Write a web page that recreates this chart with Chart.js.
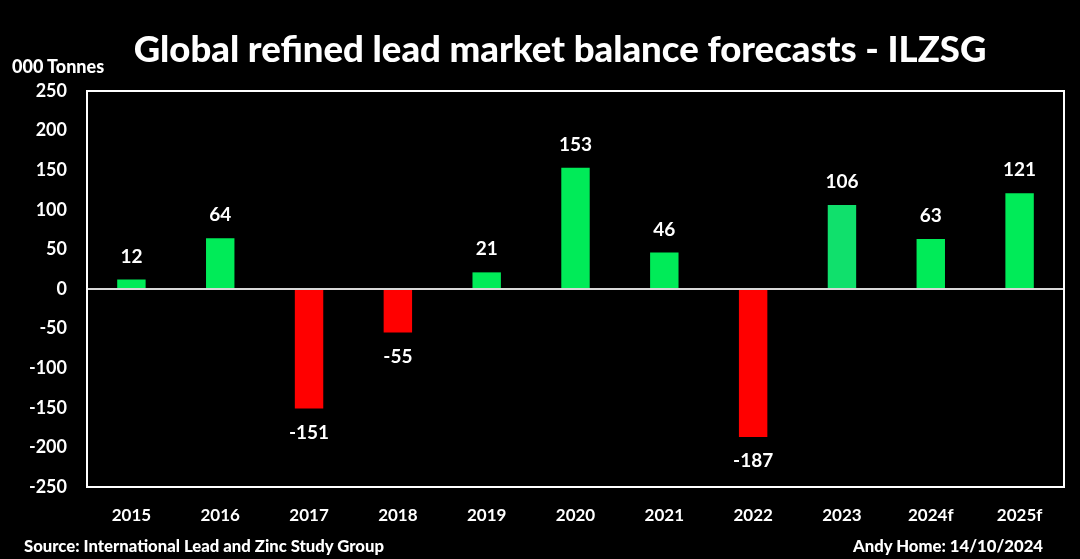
<!DOCTYPE html>
<html>
<head>
<meta charset="utf-8">
<script src="https://cdn.jsdelivr.net/npm/chart.js@4.4.0/dist/chart.umd.min.js"></script>
<style>
  html, body { margin: 0; padding: 0; background: #000; }
  #wrap { position: relative; width: 1080px; height: 559px; background: #000; font-family: Lato, "Open Sans", sans-serif; color: #fff; font-weight: 900; }
  #wrap canvas { position: absolute; left: 0; top: 0; }
  .txt { position: absolute; white-space: nowrap; }
  #title { left: 0; width: 1120px; top: 26px; text-align: center; font-size: 36.5px; }
  #unit { left: 12px; top: 55px; font-size: 18px; }
  #source { left: 24px; top: 536px; font-size: 16.7px; }
  #author { right: 37px; top: 536px; font-size: 16.7px; }
</style>
</head>
<body>
<div id="wrap">
  <canvas id="balanceChart" width="1080" height="559"></canvas>
  <div class="txt" id="title">Global refined lead market balance forecasts - ILZSG</div>
  <div class="txt" id="unit">000 Tonnes</div>
  <div class="txt" id="source">Source: International Lead and Zinc Study Group</div>
  <div class="txt" id="author">Andy Home: 14/10/2024</div>
</div>
<script>
const years = ['2015', '2016', '2017', '2018', '2019', '2020', '2021', '2022', '2023', '2024f', '2025f'];
const balance = [12, 64, -151, -55, 21, 153, 46, -187, 106, 63, 121];
const yTicks = [250, 200, 150, 100, 50, 0, -50, -100, -150, -200, -250];

const barColors = balance.map((v, i) => {
    if (v < 0) return '#FF0000';
    if (years[i] === '2023') return '#10E06C';
    return '#00EB58';
});

// value labels above / below bars
const valueLabels = {
    id: 'valueLabels',
    afterDatasetsDraw(chart) {
        const ctx = chart.ctx;
        const meta = chart.getDatasetMeta(0);
        ctx.save();
        ctx.fillStyle = '#fff';
        ctx.font = 'bold 19px Lato, "Open Sans", sans-serif';
        ctx.textAlign = 'center';
        ctx.textBaseline = 'middle';
        meta.data.forEach((bar, i) => {
            const v = balance[i];
            const y = v >= 0 ? bar.y - 23 : bar.y + 24;
            ctx.fillText(String(v), bar.x, y);
        });
        ctx.restore();
    }
};

// white frame round the plot area
const plotFrame = {
    id: 'plotFrame',
    afterDraw(chart) {
        const a = chart.chartArea;
        const ctx = chart.ctx;
        ctx.save();
        ctx.strokeStyle = '#fff';
        ctx.lineWidth = 2;
        ctx.strokeRect(a.left, a.top, a.right - a.left, a.bottom - a.top);
        ctx.restore();
    }
};

const ctx = document.getElementById('balanceChart').getContext('2d');
new Chart(ctx, {
    type: 'bar',
    data: {
        labels: years,
        datasets: [{
            data: balance,
            backgroundColor: barColors,
            borderWidth: 0,
            barPercentage: 0.32,
            categoryPercentage: 1
        }]
    },
    options: {
        responsive: false,
        animation: false,
        layout: {
            padding: { left: 0, top: 91, right: 16, bottom: 0 }
        },
        plugins: {
            legend: { display: false },
            tooltip: { enabled: false }
        },
        scales: {
            x: {
                afterFit(scale) { scale.height = 72; },
                grid: { display: false, drawTicks: false },
                border: { display: false },
                ticks: {
                    color: '#fff',
                    padding: 18,
                    font: { size: 17, weight: 'bold', family: 'Lato, "Open Sans", sans-serif' }
                }
            },
            y: {
                min: -250,
                max: 250,
                afterFit(scale) { scale.width = 87; },
                afterBuildTicks(scale) { scale.ticks = yTicks.map(v => ({ value: v })); },
                grid: {
                    drawTicks: false,
                    lineWidth: 2,
                    color: c => (c.tick && c.tick.value === 0 ? '#D9D9D9' : 'rgba(0,0,0,0)')
                },
                border: { display: false },
                ticks: {
                    color: '#fff',
                    padding: 20,
                    font: { size: 18, weight: 'bold', family: 'Lato, "Open Sans", sans-serif' }
                }
            }
        }
    },
    plugins: [valueLabels, plotFrame]
});
</script>
</body>
</html>
